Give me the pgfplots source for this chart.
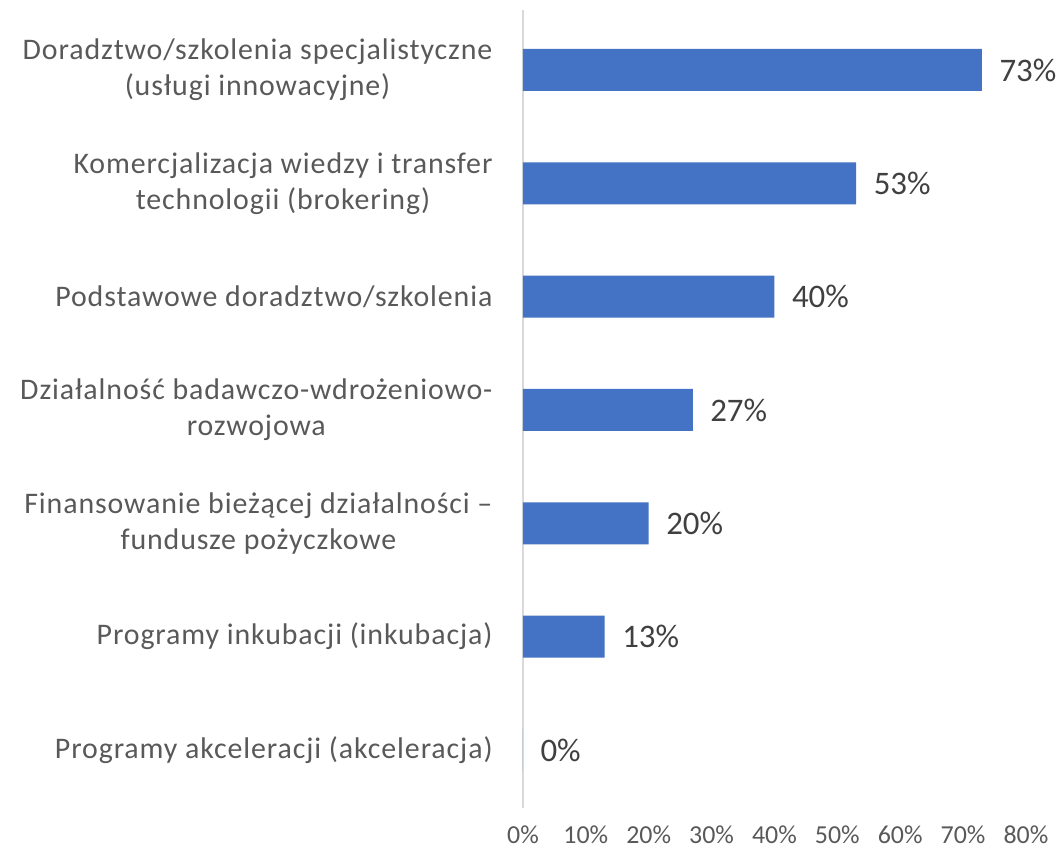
\documentclass[border=0pt]{standalone}
\usepackage{pgfplots}
\pgfplotsset{compat=1.18}
\usepackage{fontspec}
\setmainfont{Carlito}
\newfontfamily\catfont[LetterSpace=3]{Carlito}
\definecolor{barblue}{HTML}{4472C4}
\definecolor{labgray}{HTML}{595959}
\definecolor{datgray}{HTML}{404040}
\definecolor{axgray}{HTML}{D9D9D9}
\begin{document}
\begin{tikzpicture}
\begin{axis}[
  scale only axis,
  width=503bp, height=798bp,
  xbar, bar width=42bp,
  xmin=0, xmax=80,
  ymin=-0.512, ymax=6.529,
  axis lines*=left,
  x axis line style={draw=none},
  y axis line style={-, draw=axgray, line width=1.5bp},
  tick style={draw=none},
  major tick length=0pt,
  xtick={0,10,...,80},
  /pgf/number format/assume math mode=true,
  xticklabel={\pgfmathprintnumber{\tick}\%},
  xticklabel style={font=\fontsize{26}{30}\selectfont, text=labgray, yshift=-14bp},
  ytick={0,...,6},
  yticklabels={
    {Programy akceleracji (akceleracja)},
    {Programy inkubacji (inkubacja)},
    {Finansowanie bieżącej działalności –\\fundusze pożyczkowe},
    {Działalność badawczo-wdrożeniowo-\\rozwojowa},
    {Podstawowe doradztwo/szkolenia},
    {Komercjalizacja wiedzy i transfer\\technologii (brokering)},
    {Doradztwo/szkolenia specjalistyczne\\(usługi innowacyjne)}
  },
  yticklabel style={align=center, font=\catfont\fontsize{30}{36}\selectfont, text=labgray, xshift=-27bp},
  nodes near coords={\pgfmathprintnumber{\pgfplotspointmeta}\%},
  point meta=x,
  every node near coord/.append style={font=\fontsize{33}{36}\selectfont, text=datgray, xshift=14bp},
  clip=false,
]
\addplot[fill=barblue, draw=none] coordinates {
  (0,0) (13,1) (20,2) (27,3) (40,4) (53,5) (73,6)
};
\end{axis}
\pgfresetboundingbox
\path[use as bounding box] ([shift={(-523bp,-42bp)}]current axis.south west) rectangle ([shift={(536bp,808bp)}]current axis.south west);
\end{tikzpicture}
\end{document}
